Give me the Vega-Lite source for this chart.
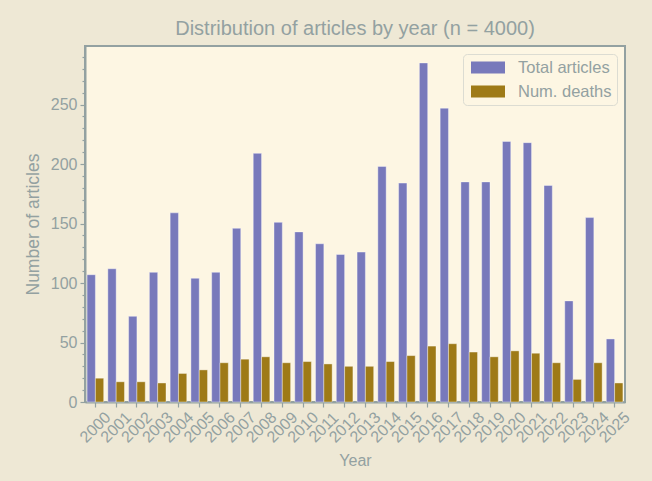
{
  "$schema": "https://vega.github.io/schema/vega-lite/v6.json",
  "width": 540,
  "height": 356,
  "autosize": {"type": "none"},
  "padding": {"left": 85, "top": 46, "right": 27, "bottom": 79},
  "background": "#EEE8D5",
  "title": {
    "text": "Distribution of articles by year (n = 4000)",
    "fontSize": 20,
    "font": "Liberation Sans",
    "fontWeight": "normal",
    "color": "#93A1A1",
    "offset": 7,
    "anchor": "middle"
  },
  "config": {
    "font": "Liberation Sans",
    "view": {"fill": "#FDF6E3", "stroke": "#93A1A1", "strokeWidth": 2}
  },
  "data": {
    "values": [
      {"year": "2000", "series": "Total articles", "count": 107},
      {"year": "2001", "series": "Total articles", "count": 112},
      {"year": "2002", "series": "Total articles", "count": 72},
      {"year": "2003", "series": "Total articles", "count": 109},
      {"year": "2004", "series": "Total articles", "count": 159},
      {"year": "2005", "series": "Total articles", "count": 104},
      {"year": "2006", "series": "Total articles", "count": 109},
      {"year": "2007", "series": "Total articles", "count": 146},
      {"year": "2008", "series": "Total articles", "count": 209},
      {"year": "2009", "series": "Total articles", "count": 151},
      {"year": "2010", "series": "Total articles", "count": 143},
      {"year": "2011", "series": "Total articles", "count": 133},
      {"year": "2012", "series": "Total articles", "count": 124},
      {"year": "2013", "series": "Total articles", "count": 126},
      {"year": "2014", "series": "Total articles", "count": 198},
      {"year": "2015", "series": "Total articles", "count": 184},
      {"year": "2016", "series": "Total articles", "count": 285},
      {"year": "2017", "series": "Total articles", "count": 247},
      {"year": "2018", "series": "Total articles", "count": 185},
      {"year": "2019", "series": "Total articles", "count": 185},
      {"year": "2020", "series": "Total articles", "count": 219},
      {"year": "2021", "series": "Total articles", "count": 218},
      {"year": "2022", "series": "Total articles", "count": 182},
      {"year": "2023", "series": "Total articles", "count": 85},
      {"year": "2024", "series": "Total articles", "count": 155},
      {"year": "2025", "series": "Total articles", "count": 53},
      {"year": "2000", "series": "Num. deaths", "count": 20},
      {"year": "2001", "series": "Num. deaths", "count": 17},
      {"year": "2002", "series": "Num. deaths", "count": 17},
      {"year": "2003", "series": "Num. deaths", "count": 16},
      {"year": "2004", "series": "Num. deaths", "count": 24},
      {"year": "2005", "series": "Num. deaths", "count": 27},
      {"year": "2006", "series": "Num. deaths", "count": 33},
      {"year": "2007", "series": "Num. deaths", "count": 36},
      {"year": "2008", "series": "Num. deaths", "count": 38},
      {"year": "2009", "series": "Num. deaths", "count": 33},
      {"year": "2010", "series": "Num. deaths", "count": 34},
      {"year": "2011", "series": "Num. deaths", "count": 32},
      {"year": "2012", "series": "Num. deaths", "count": 30},
      {"year": "2013", "series": "Num. deaths", "count": 30},
      {"year": "2014", "series": "Num. deaths", "count": 34},
      {"year": "2015", "series": "Num. deaths", "count": 39},
      {"year": "2016", "series": "Num. deaths", "count": 47},
      {"year": "2017", "series": "Num. deaths", "count": 49},
      {"year": "2018", "series": "Num. deaths", "count": 42},
      {"year": "2019", "series": "Num. deaths", "count": 38},
      {"year": "2020", "series": "Num. deaths", "count": 43},
      {"year": "2021", "series": "Num. deaths", "count": 41},
      {"year": "2022", "series": "Num. deaths", "count": 33},
      {"year": "2023", "series": "Num. deaths", "count": 19},
      {"year": "2024", "series": "Num. deaths", "count": 33},
      {"year": "2025", "series": "Num. deaths", "count": 16}
    ]
  },
  "mark": {"type": "bar", "stroke": "#ffffff", "strokeWidth": 0.7, "strokeOpacity": 0.55},
  "encoding": {
    "x": {
      "field": "year",
      "type": "nominal",
      "scale": {"paddingInner": 0.2, "paddingOuter": 0.1},
      "axis": {
        "title": "Year",
        "titleFontSize": 16,
        "titleFontWeight": "normal",
        "titleColor": "#93A1A1",
        "titlePadding": 7,
        "labelAngle": 315,
        "labelAlign": "center",
        "labelBaseline": "middle",
        "labelPadding": 20,
        "labelFontSize": 16,
        "labelColor": "#93A1A1",
        "tickSize": 5,
        "tickColor": "#93A1A1",
        "tickWidth": 1.2,
        "domainColor": "#93A1A1",
        "domainWidth": 2,
        "grid": false
      }
    },
    "xOffset": {
      "field": "series",
      "type": "nominal",
      "scale": {"domain": ["Total articles", "Num. deaths"], "paddingInner": 0, "paddingOuter": 0}
    },
    "y": {
      "field": "count",
      "type": "quantitative",
      "scale": {"domain": [0, 299.25], "nice": false, "zero": true},
      "axis": {
        "title": "Number of articles",
        "titleFontSize": 17.5,
        "titleFontWeight": "normal",
        "titleColor": "#93A1A1",
        "titlePadding": 8,
        "values": [0, 10, 20, 30, 40, 50, 60, 70, 80, 90, 100, 110, 120, 130, 140, 150, 160, 170, 180, 190, 200, 210, 220, 230, 240, 250, 260, 270, 280, 290],
        "labelExpr": "datum.value % 50 === 0 ? datum.label : ''",
        "labelFontSize": 16,
        "labelColor": "#93A1A1",
        "labelPadding": 3,
        "tickSize": {"condition": {"test": "datum.value % 50 === 0", "value": 5}, "value": 3},
        "tickColor": "#93A1A1",
        "tickWidth": 1.2,
        "domainColor": "#93A1A1",
        "domainWidth": 2,
        "grid": false
      }
    },
    "color": {
      "field": "series",
      "type": "nominal",
      "scale": {"domain": ["Total articles", "Num. deaths"], "range": ["#7879BB", "#9E7A17"]},
      "legend": {
        "title": null,
        "orient": "top-right",
        "offset": 8,
        "padding": 5,
        "fillColor": "#FDF6E3",
        "strokeColor": "#DCDCD2",
        "cornerRadius": 4,
        "symbolType": "M-1,-0.7H3V0.7H-1Z",
        "symbolSize": 289,
        "symbolOffset": 3,
        "symbolStrokeWidth": 0,
        "labelOffset": 30,
        "labelFontSize": 16.5,
        "labelColor": "#93A1A1",
        "rowPadding": 7
      }
    }
  }
}
